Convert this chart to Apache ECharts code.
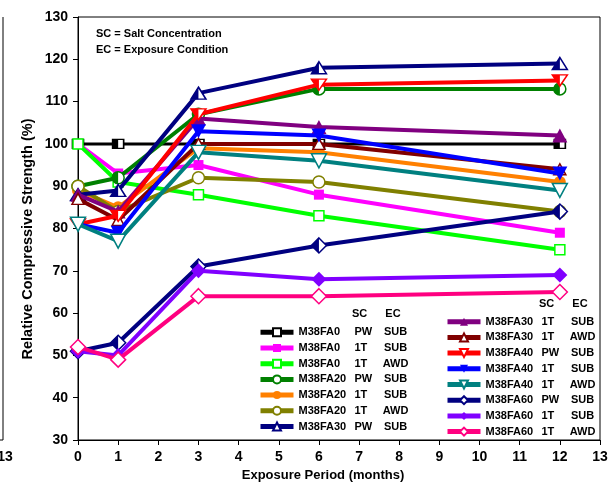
<!DOCTYPE html>
<html>
<head>
<meta charset="utf-8">
<script src="https://cdn.jsdelivr.net/npm/echarts@6/dist/echarts.min.js"></script>
<style>
    html, body { margin: 0; padding: 0; background: #fff; }
    #chart { width: 616px; height: 488px; }
</style>
</head>
<body>
<div id="chart"></div>
<script>
// exposure period (months)
const months = [0, 1, 3, 6, 12];
const xTicks = [0, 1, 2, 3, 4, 5, 6, 7, 8, 9, 10, 11, 12, 13];

// relative compressive strength (%)
const fa0PwSub = [100, 100, 100, 100, 100];
const fa0T1Sub = [100, 93, 95, 88, 79];
const fa0T1Awd = [100, 91, 88, 83, 75];
const fa20PwSub = [90, 92, 107, 113, 113];
const fa20T1Sub = [89, 85, 99, 98, 91];
const fa20T1Awd = [90, 84, 92, 91, 84];
const fa30PwSub = [88, 89, 112, 118, 119];
const fa30T1Sub = [88, 84, 106, 104, 102];
const fa30T1Awd = [87, 82, 100, 100, 94];
const fa40PwSub = [81, 83, 107, 114, 115];
const fa40T1Sub = [81, 79, 103, 102, 93];
const fa40T1Awd = [81, 77, 98, 96, 89];
const fa60PwSub = [51, 53, 71, 76, 84];
const fa60T1Sub = [51, 50, 70, 68, 69];
const fa60T1Awd = [52, 49, 64, 64, 65];

const leftNames = ['M38FA0 PW SUB', 'M38FA0 1T SUB', 'M38FA0 1T AWD', 'M38FA20 PW SUB',
    'M38FA20 1T SUB', 'M38FA20 1T AWD', 'M38FA30 PW SUB'];
const rightNames = ['M38FA30 1T SUB', 'M38FA30 1T AWD', 'M38FA40 PW SUB', 'M38FA40 1T SUB',
    'M38FA40 1T AWD', 'M38FA60 PW SUB', 'M38FA60 1T SUB', 'M38FA60 1T AWD'];

const seriesValues = [fa0PwSub, fa0T1Sub, fa0T1Awd, fa20PwSub, fa20T1Sub, fa20T1Awd, fa30PwSub,
    fa30T1Sub, fa30T1Awd, fa40PwSub, fa40T1Sub, fa40T1Awd, fa60PwSub, fa60T1Sub, fa60T1Awd];

// look of each series, same order as above
const looks = [
    {color: '#000000', shape: 'square', fill: 'half', size: [11, 9], width: 3},
    {color: '#ff00ff', shape: 'square', fill: 'full', size: [10, 10]},
    {color: '#00ff00', shape: 'square', fill: 'open', size: [10, 10]},
    {color: '#008000', shape: 'circle', fill: 'half', size: [12, 12]},
    {color: '#ff8000', shape: 'circle', fill: 'full', size: [12, 12]},
    {color: '#808000', shape: 'circle', fill: 'open', size: [12, 12]},
    {color: '#000080', shape: 'up', fill: 'half', size: [15, 12]},
    {color: '#800080', shape: 'up', fill: 'full', size: [15, 14]},
    {color: '#800000', shape: 'up', fill: 'open', size: [12, 11]},
    {color: '#ff0000', shape: 'down', fill: 'half', size: [15, 11]},
    {color: '#0000ff', shape: 'down', fill: 'full', size: [15, 14]},
    {color: '#008080', shape: 'down', fill: 'open', size: [15, 14]},
    {color: '#000080', shape: 'diamond', fill: 'half', size: [15, 15]},
    {color: '#8000ff', shape: 'diamond', fill: 'full', size: [15, 15]},
    {color: '#ff0080', shape: 'diamond', fill: 'open', size: [15, 15]}
];

const fullSymbol = {square: 'rect', circle: 'circle', up: 'triangle', down: 'triangle', diamond: 'diamond'};
// left halves, stretched to [w/2, h] and pushed left
const halfSymbol = {
    square: 'rect',
    circle: 'path://M1 0 C0.448 0 0 0.448 0 1 C0 1.552 0.448 2 1 2 Z',
    up: 'path://M1 0 L0 2 L1 2 Z',
    down: 'path://M0 0 L1 0 L1 2 Z',
    diamond: 'path://M1 0 L0 1 L1 2 Z'
};

const allNames = leftNames.concat(rightNames);
let series = [];
allNames.forEach((name, i) => {
    let look = looks[i];
    let points = months.map((m, j) => [m, seriesValues[i][j]]);
    series.push({
        name: name,
        type: 'line',
        z: 10 + i * 2,
        data: points,
        clip: false,
        symbol: fullSymbol[look.shape],
        symbolRotate: look.shape == 'down' ? 180 : 0,
        symbolSize: look.size,
        lineStyle: {color: look.color, width: look.width || 4},
        itemStyle: look.fill == 'full'
            ? {color: look.color, borderWidth: 0}
            : {color: '#ffffff', borderColor: look.color, borderWidth: 1.5}
    });
    if (look.fill == 'half') {
        series.push({
            name: name + ' half',
            type: 'scatter',
            z: 11 + i * 2,
            data: points,
            clip: false,
            silent: true,
            symbol: halfSymbol[look.shape],
            symbolSize: [look.size[0] / 2, look.size[1]],
            symbolOffset: ['-50%', 0],
            itemStyle: {color: look.color, opacity: 1}
        });
    }
});

const font = 'Liberation Sans, Arial, sans-serif';
const bold11 = {fontFamily: font, fontWeight: 'bold', fontSize: 11, color: '#000'};

function legendFor(names, left, top) {
    return {
        data: names,
        orient: 'vertical',
        left: left,
        top: top,
        z: 60,
        padding: 0,
        itemGap: 2.7,
        itemWidth: 33,
        itemHeight: 10,
        symbolRotate: 'inherit',
        lineStyle: {width: 5},
        selectedMode: false,
        formatter: (name) => {
            let parts = name.split(' ');
            return '{n|' + parts[0] + '}{s|' + parts[1] + '}{e|' + parts[2] + '}';
        },
        textStyle: Object.assign({lineHeight: 13, padding: [0, 0, 0, 0],
            rich: {
                n: Object.assign({width: 56, lineHeight: 13}, bold11),
                s: Object.assign({width: 28, lineHeight: 13}, bold11),
                e: Object.assign({width: 26, align: 'center', lineHeight: 13}, bold11)
            }}, bold11)
    };
}

function label(text, x, y, align, size, rotation) {
    return {
        type: 'text',
        x: x,
        y: y,
        z: 60,
        rotation: rotation || 0,
        silent: true,
        style: {
            text: text,
            fill: '#000',
            font: 'bold ' + (size || 11) + 'px "Liberation Sans", Arial, sans-serif',
            align: align || 'left',
            textAlign: align || 'left',
            verticalAlign: 'middle',
            textVerticalAlign: 'middle'
        }
    };
}

let chart = echarts.init(document.getElementById('chart'), null, {renderer: 'canvas'});
chart.setOption({
    animation: false,
    backgroundColor: '#ffffff',
    grid: {
        left: 78,
        right: 16,
        top: 17,
        bottom: 48,
        show: true,
        borderColor: '#000',
        borderWidth: 1,
        backgroundColor: 'transparent'
    },
    xAxis: {
        type: 'value',
        min: xTicks[0],
        max: xTicks[xTicks.length - 1],
        interval: 1,
        axisLine: {lineStyle: {color: '#000', width: 1}},
        axisTick: {inside: false, length: 5, lineStyle: {color: '#000'}},
        axisLabel: {margin: 10, color: '#000', fontFamily: font, fontWeight: 'bold', fontSize: 14},
        splitLine: {show: false}
    },
    yAxis: {
        type: 'value',
        min: 30,
        max: 130,
        interval: 10,
        axisLine: {show: true, lineStyle: {color: '#000', width: 1}},
        axisTick: {show: true, inside: false, length: 5, lineStyle: {color: '#000'}},
        axisLabel: {margin: 10, color: '#000', fontFamily: font, fontWeight: 'bold', fontSize: 14},
        splitLine: {show: false}
    },
    legend: [legendFor(leftNames, 258, 325.8), legendFor(rightNames, 445, 315.2)],
    graphic: [
        // axis titles
        label('Exposure Period (months)', 323, 475, 'center', 13),
        label('Relative Compressive Strength (%)', 28, 239, 'center', 14.5, Math.PI / 2),
        label('SC = Salt Concentration', 96, 34),
        label('EC = Exposure Condition', 96, 50),
        label('SC', 352, 314),
        label('EC', 393, 314, 'center'),
        label('SC', 539, 304),
        label('EC', 580, 304, 'center'),
        // edge of the neighbouring figure
        {type: 'line', silent: true, shape: {x1: 3, y1: 17, x2: 3, y2: 440}, style: {stroke: '#000', lineWidth: 1}},
        {type: 'line', silent: true, shape: {x1: 0, y1: 440, x2: 3, y2: 440}, style: {stroke: '#000', lineWidth: 1}},
        label('13', 5, 457, 'center', 14)
    ],
    series: series
});
</script>
</body>
</html>
